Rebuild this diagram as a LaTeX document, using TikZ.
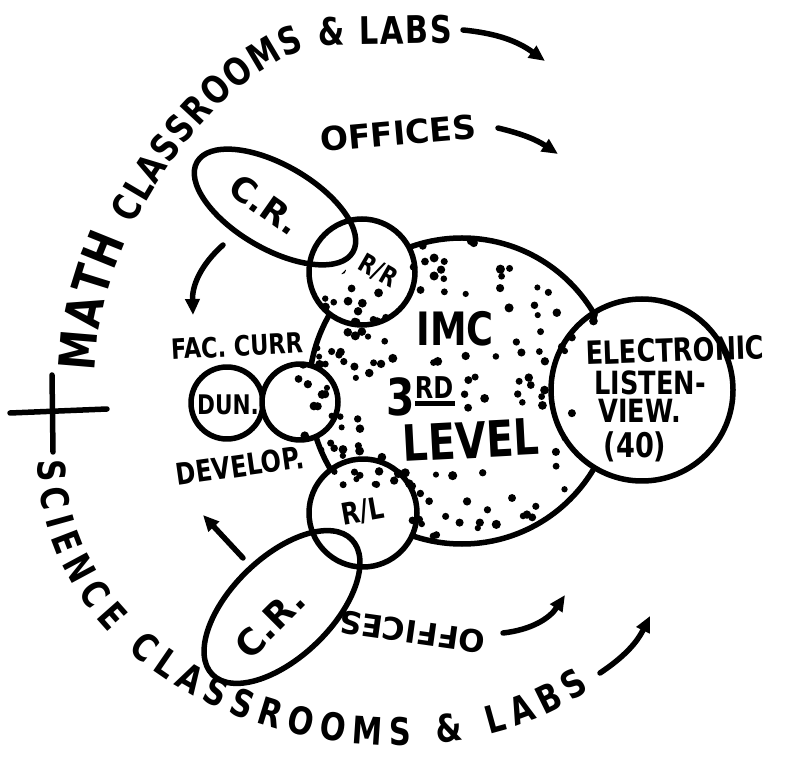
\documentclass[tikz,border=0pt]{standalone}
\usepackage{fontspec}
\newfontfamily\hand{DejaVu Sans}[FakeStretch=0.8]
\newfontfamily\handw{DejaVu Sans}
\usetikzlibrary{shapes.geometric,arrows.meta,decorations.text}
\newif\ifdotok

\begin{document}
\begin{tikzpicture}[x=1pt,y=1pt,line width=5.5pt,line join=round,
 bubble/.style={circle,draw,fill=white,inner sep=0pt},
 room/.style={ellipse,draw,inner sep=0pt},
 lbl/.style={inner sep=0pt,font=\hand\bfseries\fontsize{#1}{#1}\selectfont},
 lblw/.style={inner sep=0pt,font=\handw\bfseries\fontsize{#1}{#1}\selectfont},
 flow/.style={-{Triangle[length=16pt,width=14pt]},line cap=round}]
 \useasboundingbox (0,0) rectangle (797,758);

 \node[bubble,minimum size=306pt] (imc) at (462,367) {};
 \node[bubble,minimum size=182pt] (elec) at (642,368) {};
 \node[bubble,minimum size=106pt] (rr) at (362,486) {};
 \node[bubble,minimum size=108pt] (rl) at (363,245) {};
 \node[bubble,minimum size=72pt] (dun) at (227,355) {};
 \node[bubble,minimum size=76pt] (fac) at (300,356) {};

 % stipple of the IMC
 \pgfmathsetseed{31}
 \begin{scope}
  \clip (462,367) circle (168);
  \clip (462,367) circle (153) (362,486) circle (53) (363,245) circle (54)
        (300,356) circle (38) (642,368) circle (91);
  \foreach \i in {1,...,330}{
   \pgfmathsetmacro\px{294+336*rnd}
   \pgfmathsetmacro\py{199+336*rnd}
   \global\dotoktrue
   \foreach \xa/\ya/\xb/\yb in {402/403/508/456,374/342/464/389,390/288/552/348,
     572/288/790/428,352/466/404/512,322/220/405/272}{
    \pgfmathparse{(\px>\xa)*(\px<\xb)*(\py>\ya)*(\py<\yb)}
    \ifdim\pgfmathresult pt>0.5pt\global\dotokfalse\fi
   }
   \ifdotok\fill (\px,\py) circle ({3+1.6*rnd});\fi
  }
 \end{scope}

 \node[room,minimum width=180pt,minimum height=84pt,rotate=-30] (crtop) at (275,551) {};
 \node[room,minimum width=194pt,minimum height=100pt,rotate=44] (crbot) at (282,151) {};

 \node[lbl=46] (imctxt) at (455,429) {IMC};
 \node[lbl=51] (lvltxt) at (420,362) {3\raisebox{17pt}{\fontsize{30}{30}\selectfont\rlap{\rule[-8pt]{40pt}{5pt}}RD}};
 \node[lbl=50,rotate=3] (leveltxt) at (471,318) {LEVEL};
 \node[lbl=32,rotate=2] (electxt) at (675,408) {ELECTRONIC};
 \node[lbl=32] (listentxt) at (650,375) {LISTEN-};
 \node[lbl=32] (viewtxt) at (640,347) {VIEW.};
 \node[lbl=34] (seattxt) at (635,311) {(40)};
 \node[lbl=26,rotate=-30] (rrtxt) at (378,487) {R/R};
 \node[lbl=30,rotate=10] (rltxt) at (363,246) {R/L};
 \node[lblw=34,rotate=-35] (crtoptxt) at (265,553) {C.R.};
 \node[lblw=36,rotate=45] (crbottxt) at (270,135) {C.R.};
 \node[lbl=27] (duntxt) at (228,353) {DUN.};
 \node[lbl=28,rotate=3] (factxt) at (237,412) {FAC. CURR};
 \node[lbl=30,rotate=8] (devtxt) at (240,292) {DEVELOP.};
 \node[lblw=33,rotate=5] (offtop) at (398,625) {OFFICES};
 \node[lblw=31,rotate=172] (offbot) at (412,126) {OFFICES};

 \path[decorate,decoration={text along path,text align=fit to path,
   text={|\hand\bfseries\fontsize{50}{50}\selectfont|MATH |\hand\bfseries\fontsize{38}{38}\selectfont|CLASSROOMS {\&} LABS}}]
   (95,386) .. controls (95,528) and (230,708) .. (330,713) -- (452,715);
 \path[decorate,decoration={text along path,text align=fit to path,
   text={|\hand\bfseries\fontsize{38}{38}\selectfont|SCIENCE CLASSROOMS {\&} LABS}}]
   (38,298) .. controls (40,46) and (400,-62) .. (590,68);

 \coordinate (a1s) at (463,728); \coordinate (a1e) at (545,697);
 \coordinate (a2s) at (498,630); \coordinate (a2e) at (558,604);
 \coordinate (a3s) at (223,513); \coordinate (a3e) at (193,443);
 \coordinate (a4s) at (243,200); \coordinate (a4e) at (203,243);
 \coordinate (a5s) at (503,125); \coordinate (a5e) at (565,163);
 \coordinate (a6s) at (600,85);  \coordinate (a6e) at (650,142);
 \draw[flow] (a1s) to[bend left=15] (a1e);
 \draw[flow] (a2s) to[bend left=10] (a2e);
 \draw[flow] (a3s) to[bend right=25] (a3e);
 \draw[flow] (a4s) -- (a4e);
 \draw[flow] (a5s) to[bend right=25] (a5e);
 \draw[flow] (a6s) to[bend right=15] (a6e);

 \coordinate (hl) at (10,345); \coordinate (hr) at (107,349);
 \coordinate (vt) at (52,383); \coordinate (vb) at (53,306);
 \draw[line cap=round] (hl) -- (hr);
 \draw[line cap=round] (vt) -- (vb);
\end{tikzpicture}
\end{document}
